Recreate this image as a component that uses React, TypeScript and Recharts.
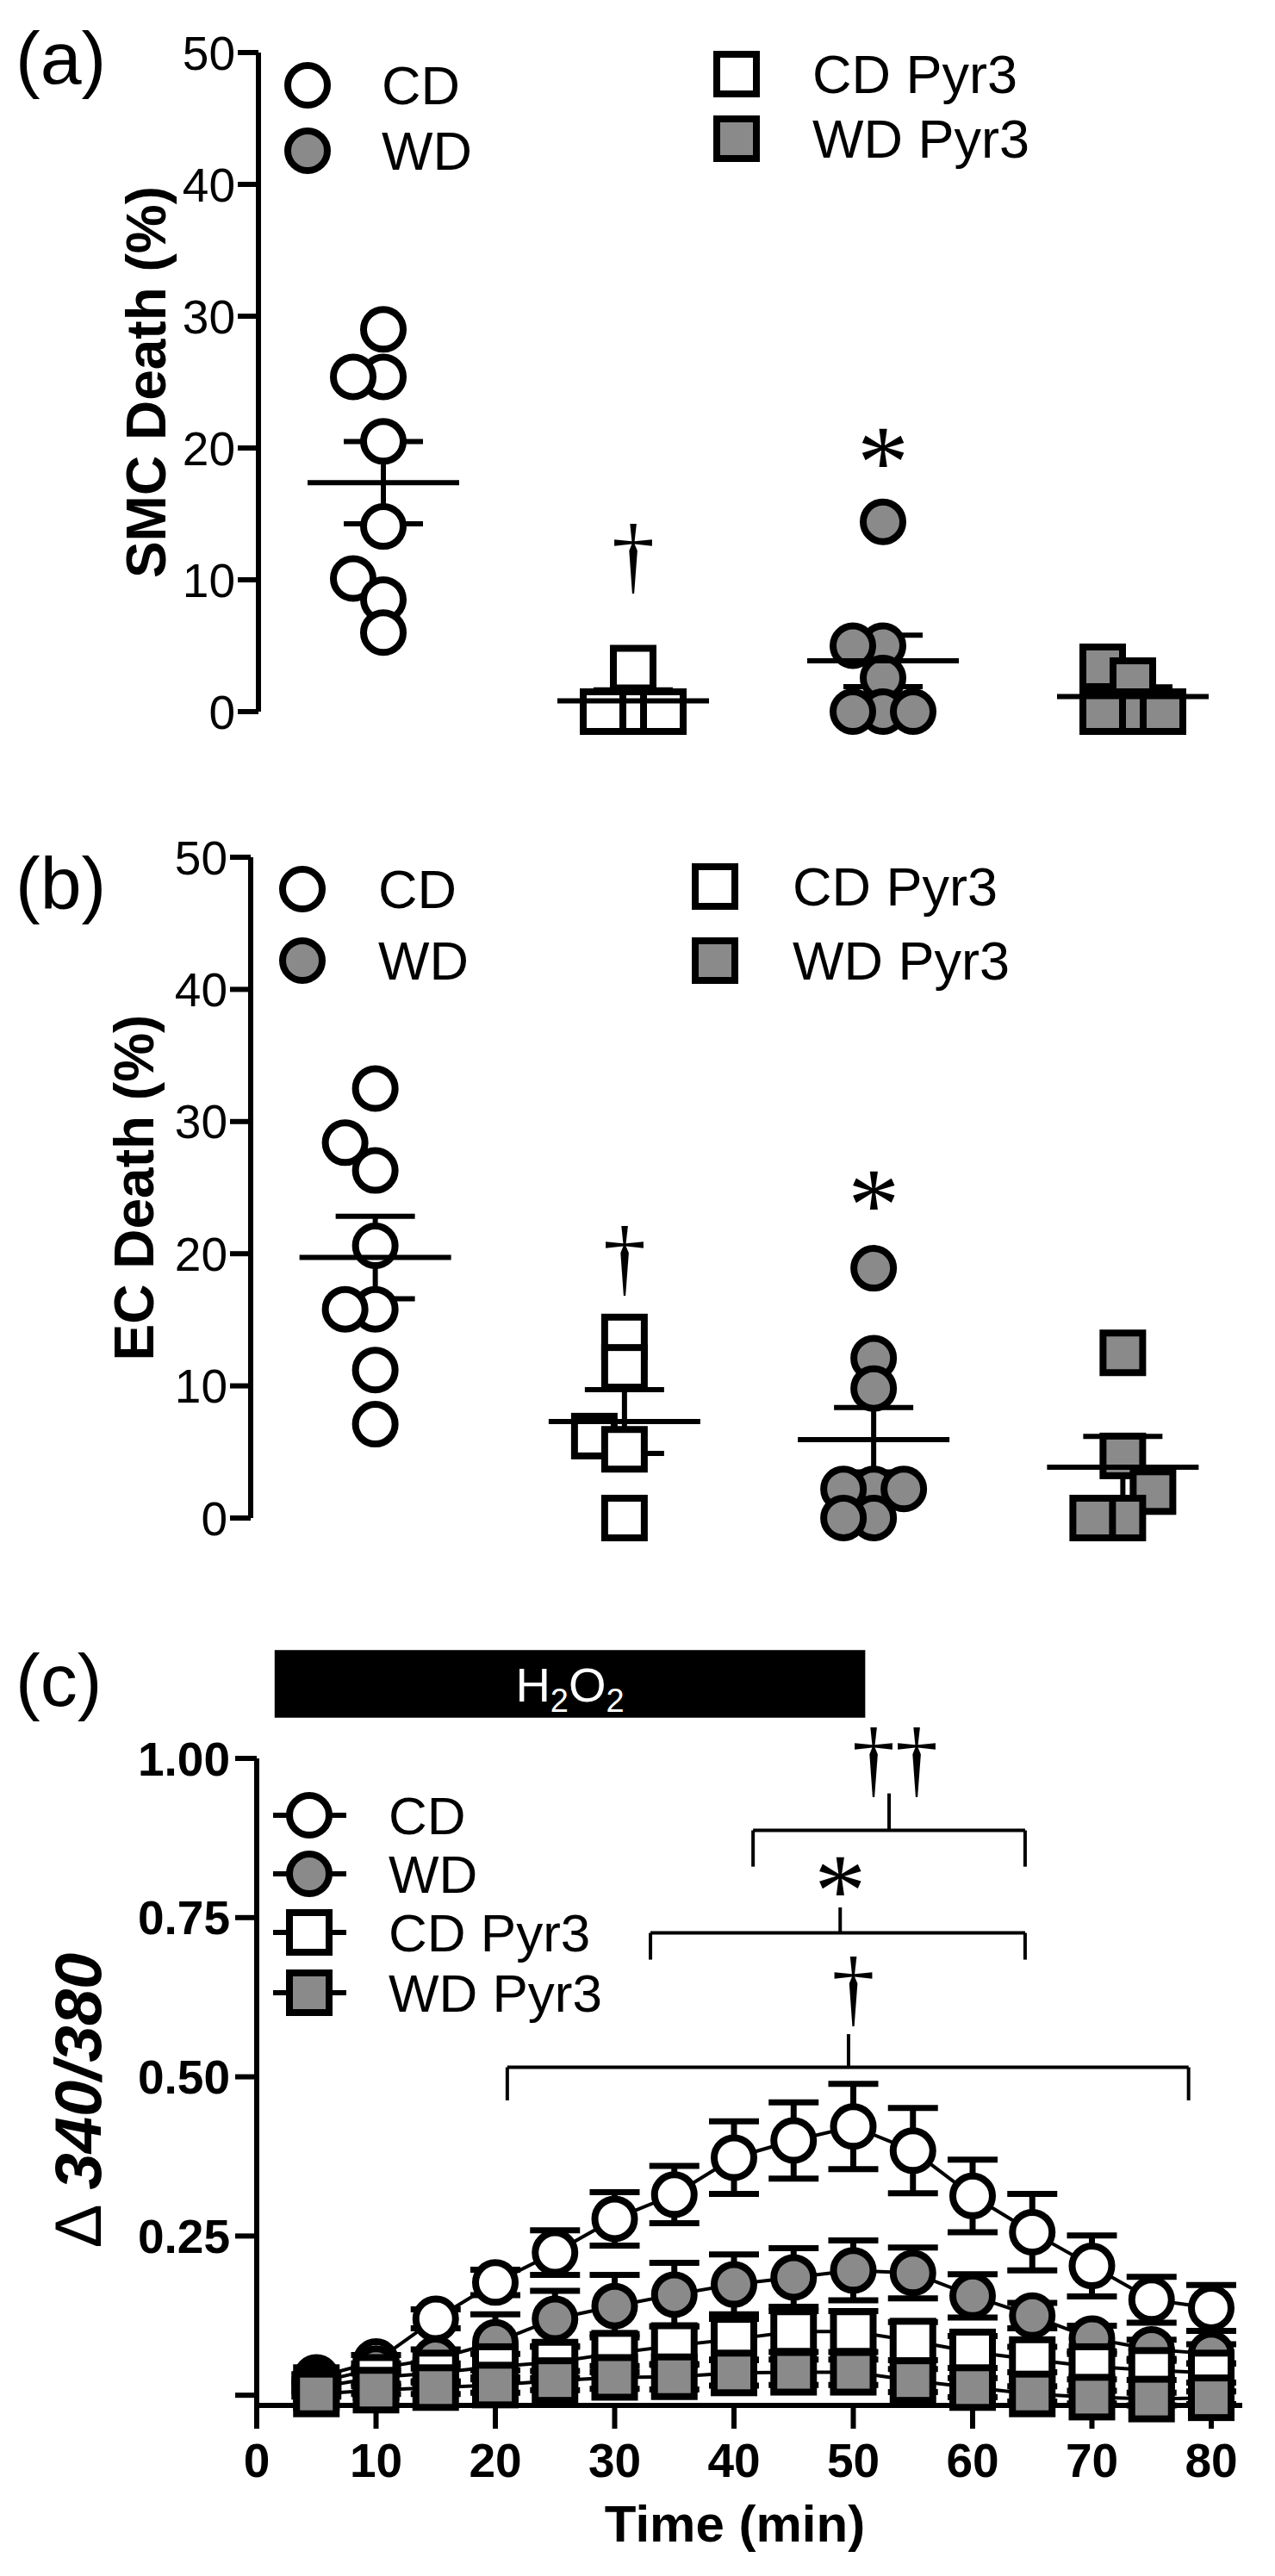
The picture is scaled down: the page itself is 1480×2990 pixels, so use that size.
import React from 'react';
import {
  ScatterChart,
  Scatter,
  ComposedChart,
  Line,
  XAxis,
  YAxis,
  ErrorBar,
  ReferenceLine,
  ReferenceArea,
  ReferenceDot,
  Legend,
} from 'recharts';

const FONT = '"Liberation Sans", Arial, Helvetica, sans-serif';
const SERIF = '"Liberation Serif", "Times New Roman", serif';
const GREY = '#8a8a8a';
const AXIS = { stroke: '#000', strokeWidth: 6 };

// ---- panels (a) and (b): one value per animal, % dead cells ----
const groups = ['CD', 'CD Pyr3', 'WD', 'WD Pyr3'];
const deathTicks = [0, 10, 20, 30, 40, 50];

const smcCD = [29.0, 25.4, 25.4, 20.5, 14.05, 10.1, 8.5, 6.0];
const smcCDPyr3 = [3.3, 0, 0, 0];
const smcWD = [14.4, 5.0, 5.0, 2.55, 0, 0, 0];
const smcWDPyr3 = [3.4, 2.35, 0, 0, 0];

const ecCD = [32.5, 28.4, 26.3, 20.6, 15.8, 15.8, 11.2, 7.1];
const ecCDPyr3 = [13.7, 11.4, 6.2, 5.2, 0];
const ecWD = [18.9, 12.1, 9.8, 2.2, 2.2, 2.2, 0, 0];
const ecWDPyr3 = [12.5, 4.7, 2.0, 0, 0];

const smcMarks = [
  { g: 1, v: 11.5, s: '†' },
  { g: 2, v: 20.2, s: '*' },
];
const ecMarks = [
  { g: 1, v: 19.35, s: '†' },
  { g: 2, v: 25.0, s: '*' },
];

// ---- panel (c): mean ± SEM of the 340/380 ratio change ----
const time = [5, 10, 15, 20, 25, 30, 35, 40, 45, 50, 55, 60, 65, 70, 75, 80];
const cdMean = [0.028, 0.053, 0.12, 0.177, 0.224, 0.277, 0.315, 0.373, 0.4, 0.422, 0.384, 0.313, 0.256, 0.203, 0.15, 0.137];
const cdSem = [0.005, 0.01, 0.015, 0.02, 0.035, 0.042, 0.045, 0.057, 0.06, 0.067, 0.067, 0.057, 0.06, 0.048, 0.036, 0.036];
const wdMean = [0.02, 0.042, 0.057, 0.083, 0.12, 0.14, 0.158, 0.174, 0.185, 0.196, 0.192, 0.156, 0.125, 0.089, 0.072, 0.065];
const wdSem = [0.005, 0.008, 0.015, 0.044, 0.044, 0.049, 0.05, 0.047, 0.046, 0.047, 0.04, 0.034, 0.02, 0.02, 0.015, 0.015];
const cdPyr3Mean = [0.012, 0.028, 0.035, 0.045, 0.052, 0.066, 0.078, 0.088, 0.1, 0.1, 0.085, 0.068, 0.056, 0.045, 0.039, 0.035];
const cdPyr3Sem = [0.005, 0.01, 0.015, 0.02, 0.025, 0.03, 0.03, 0.032, 0.032, 0.032, 0.03, 0.025, 0.02, 0.02, 0.015, 0.015];
const wdPyr3Mean = [0.002, 0.008, 0.012, 0.016, 0.023, 0.028, 0.029, 0.035, 0.036, 0.036, 0.023, 0.012, 0.002, -0.003, -0.006, -0.004];
const wdPyr3Sem = [0.004, 0.006, 0.01, 0.012, 0.015, 0.018, 0.02, 0.02, 0.02, 0.02, 0.018, 0.015, 0.012, 0.01, 0.01, 0.01];

const timeTicks = [0, 10, 20, 30, 40, 50, 60, 70, 80];
const ratioTicks = [0, 0.25, 0.5, 0.75, 1];
const h2o2 = { start: 1.5, end: 51 };

const brackets = [
  { x1: 41.6, x2: 64.4, xp: 53.0, yH: 0.887, yT: 0.83, yP: 0.945 },
  { x1: 33.0, x2: 64.4, xp: 48.9, yH: 0.726, yT: 0.684, yP: 0.766 },
  { x1: 21.0, x2: 78.1, xp: 49.6, yH: 0.515, yT: 0.463, yP: 0.567 },
];
const ratioMarks = [
  { t: 53.5, v: 0.992, s: '††' },
  { t: 48.9, v: 0.819, s: '*' },
  { t: 50.0, v: 0.632, s: '†' },
];

type Kind = 'circle' | 'square';
const seriesStyle: { kind: Kind; fill: string }[] = [
  { kind: 'circle', fill: '#fff' },
  { kind: 'square', fill: '#fff' },
  { kind: 'circle', fill: GREY },
  { kind: 'square', fill: GREY },
];

const mean = (v: number[]) => v.reduce((a, b) => a + b, 0) / v.length;
const sem = (v: number[]) => {
  const m = mean(v);
  const sd = Math.sqrt(v.reduce((a, b) => a + (b - m) * (b - m), 0) / (v.length - 1));
  return sd / Math.sqrt(v.length);
};

// GraphPad-like scatter: push overlapping dots sideways
const STEP = 35;
const MIN_GAP = 33;
function spread(values: number[], pxX: number, pxY: number): number[] {
  const order = values.map((_, i) => i).sort((a, b) => values[a] - values[b]);
  const placed: { dx: number; y: number }[] = [];
  const out = values.map(() => 0);
  const cands = [0, -STEP, STEP, -2 * STEP, 2 * STEP, -3 * STEP, 3 * STEP];
  order.forEach((i) => {
    const y = values[i] * pxY;
    const dx = cands.find((c) => placed.every((p) => Math.hypot(p.dx - c, p.y - y) >= MIN_GAP)) ?? 0;
    placed.push({ dx, y });
    out[i] = dx / pxX;
  });
  return out;
}

function Marker({ cx, cy, kind, fill, size = 46 }: any) {
  if (cx == null || cy == null) return null;
  if (kind === 'circle') {
    return <circle cx={cx} cy={cy} r={size / 2} fill={fill} stroke="#000" strokeWidth={8} />;
  }
  return (
    <rect x={cx - size / 2} y={cy - size / 2} width={size} height={size} fill={fill} stroke="#000" strokeWidth={8} />
  );
}

function Mark({ cx, cy, s }: any) {
  const star = s === '*';
  return (
    <text
      x={cx}
      y={cy}
      dy={star ? '0.5em' : '0.27em'}
      textAnchor="middle"
      fontFamily={SERIF}
      fontSize={star ? 120 : 100}
      fill="#000"
    >
      {s}
    </text>
  );
}

function VerticalTitle({ x, y, text }: { x: number; y: number; text: string }) {
  return (
    <text
      x={x}
      y={y}
      transform={`rotate(-90 ${x} ${y})`}
      textAnchor="middle"
      dominantBaseline="central"
      fontFamily={FONT}
      fontWeight="bold"
      fontSize={64}
      fill="#000"
    >
      {text}
    </text>
  );
}

function PanelLetter({ top, baseline, letter }: { top: number; baseline: number; letter: string }) {
  return (
    <svg style={{ position: 'absolute', left: 0, top, overflow: 'visible' }} width={140} height={10}>
      <text x={18} y={baseline} fontFamily={FONT} fontSize={86} fill="#000">
        {letter}
      </text>
    </svg>
  );
}

interface DeathProps {
  top: number;
  height: number;
  plot: { left: number; right: number; top: number; bottom: number };
  values: number[][];
  title: string;
  titleX: number;
  marks: { g: number; v: number; s: string }[];
  legend: { cx: number; cy: number[]; sx: number; sy: number[]; ctx: number; stx: number };
}

function DeathPanel({ top, height, plot, values, title, titleX, marks, legend }: DeathProps) {
  const pxX = (plot.right - plot.left) / groups.length;
  const pxY = (plot.bottom - plot.top) / 50;
  const points = values.map((vals, g) => {
    const off = spread(vals, pxX, pxY);
    return vals.map((v, i) => ({ x: g + off[i], y: v }));
  });
  const summary = values.map((vals, g) => ({ x: g, y: mean(vals), sem: sem(vals) }));
  const legendItems = [
    { name: groups[0], st: seriesStyle[0], x: legend.cx, y: legend.cy[0], tx: legend.ctx },
    { name: groups[2], st: seriesStyle[2], x: legend.cx, y: legend.cy[1], tx: legend.ctx },
    { name: groups[1], st: seriesStyle[1], x: legend.sx, y: legend.sy[0], tx: legend.stx },
    { name: groups[3], st: seriesStyle[3], x: legend.sx, y: legend.sy[1], tx: legend.stx },
  ];

  return (
    <div style={{ position: 'absolute', left: 0, top, width: 1480, height }}>
      <ScatterChart
        width={1480}
        height={height}
        margin={{ top: plot.top - top, right: 1480 - plot.right, bottom: top + height - plot.bottom, left: plot.left - 100 }}
      >
        <XAxis
          type="number"
          dataKey="x"
          domain={() => [-0.5, 3.5]}
          height={0}
          tick={false}
          tickLine={false}
          axisLine={AXIS}
        />
        <YAxis
          type="number"
          dataKey="y"
          domain={() => [0, 50]}
          ticks={deathTicks}
          interval={0}
          width={100}
          tickSize={24}
          tickMargin={3}
          axisLine={AXIS}
          tickLine={AXIS}
          tick={{ fontSize: 55, fill: '#000', fontFamily: FONT }}
          label={() => <VerticalTitle x={titleX} y={(plot.top + plot.bottom) / 2 - top} text={title} />}
        />
        {points.map((pts, g) => (
          <Scatter
            key={groups[g]}
            name={groups[g]}
            data={pts}
            isAnimationActive={false}
            shape={(p: any) => <Marker cx={p.cx} cy={p.cy} kind={seriesStyle[g].kind} fill={seriesStyle[g].fill} />}
          />
        ))}
        <Scatter
          name="mean"
          data={summary}
          isAnimationActive={false}
          shape={(p: any) => (
            <line x1={p.cx - 88} x2={p.cx + 88} y1={p.cy} y2={p.cy} stroke="#000" strokeWidth={6} />
          )}
        >
          <ErrorBar dataKey="sem" direction="y" width={46} strokeWidth={6} stroke="#000" />
        </Scatter>
        {marks.map((m) => (
          <ReferenceDot
            key={`${m.g}-${m.s}`}
            x={m.g}
            y={m.v}
            r={1}
            ifOverflow="visible"
            shape={(p: any) => <Mark cx={p.cx} cy={p.cy} s={m.s} />}
          />
        ))}
        <Legend
          layout="horizontal"
          verticalAlign="middle"
          align="center"
          wrapperStyle={{ position: 'absolute', left: 0, top: 0, width: 1480, height: 240, pointerEvents: 'none' }}
          content={() => (
            <svg width={1480} height={240}>
              {legendItems.map((it) => (
                <g key={it.name}>
                  <Marker cx={it.x} cy={it.y} kind={it.st.kind} fill={it.st.fill} />
                  <text x={it.tx} y={it.y} dominantBaseline="central" fontFamily={FONT} fontSize={63} fill="#000">
                    {it.name}
                  </text>
                </g>
              ))}
            </svg>
          )}
        />
      </ScatterChart>
    </div>
  );
}

const ratioRows = time.map((t, i) => ({
  t,
  cd: cdMean[i],
  cdErr: cdSem[i],
  wd: wdMean[i],
  wdErr: wdSem[i],
  cdp: cdPyr3Mean[i],
  cdpErr: cdPyr3Sem[i],
  wdp: wdPyr3Mean[i],
  wdpErr: wdPyr3Sem[i],
}));

const ratioSeries = [
  { key: 'cd', err: 'cdErr', name: 'CD', st: seriesStyle[0] },
  { key: 'wd', err: 'wdErr', name: 'WD', st: seriesStyle[2] },
  { key: 'cdp', err: 'cdpErr', name: 'CD Pyr3', st: seriesStyle[1] },
  { key: 'wdp', err: 'wdpErr', name: 'WD Pyr3', st: seriesStyle[3] },
];

function RatioPanel() {
  const top = 1880;
  const height = 1110;
  const plot = { left: 298, right: 1442, top: 2041, bottom: 2792 };
  const xAxisHeight = 170;
  const legendRows = [227, 295, 363, 433];

  return (
    <div style={{ position: 'absolute', left: 0, top, width: 1480, height }}>
      <ComposedChart
        width={1480}
        height={height}
        data={ratioRows}
        margin={{
          top: plot.top - top,
          right: 1480 - plot.right,
          left: plot.left - 150,
          bottom: top + height - plot.bottom - xAxisHeight,
        }}
      >
        <XAxis
          type="number"
          dataKey="t"
          domain={() => [0, 82.6]}
          ticks={timeTicks}
          interval={0}
          height={xAxisHeight}
          tickSize={27}
          tickMargin={17}
          axisLine={AXIS}
          tickLine={AXIS}
          tick={{ fontSize: 55, fontWeight: 'bold', fill: '#000', fontFamily: FONT }}
          label={() => (
            <text x={853} y={1070} textAnchor="middle" fontFamily={FONT} fontWeight="bold" fontSize={60} fill="#000">
              Time (min)
            </text>
          )}
        />
        <YAxis
          type="number"
          domain={() => [0, 1]}
          ticks={ratioTicks}
          interval={0}
          width={150}
          tickSize={25}
          tickMargin={6}
          axisLine={AXIS}
          tickLine={AXIS}
          tickFormatter={(v: number) => (v === 0 ? '' : v.toFixed(2))}
          tick={{ fontSize: 55, fontWeight: 'bold', fill: '#000', fontFamily: FONT }}
          label={() => (
            <text
              x={90}
              y={558}
              transform="rotate(-90 90 558)"
              textAnchor="middle"
              dominantBaseline="central"
              fontFamily={FONT}
              fontSize={76}
              fill="#000"
            >
              <tspan>Δ </tspan>
              <tspan fontWeight="bold" fontStyle="italic">340/380</tspan>
            </text>
          )}
        />
        {ratioSeries.map((s) => (
          <Line
            key={s.key}
            name={s.name}
            dataKey={s.key}
            type="linear"
            stroke="#000"
            strokeWidth={4}
            isAnimationActive={false}
            activeDot={false}
            dot={(p: any) => <Marker key={`${s.key}-${p.index}`} cx={p.cx} cy={p.cy} kind={s.st.kind} fill={s.st.fill} />}
          >
            <ErrorBar dataKey={s.err} direction="y" width={29} strokeWidth={7} stroke="#000" />
          </Line>
        ))}
        <ReferenceArea
          x1={h2o2.start}
          x2={h2o2.end}
          y1={1.064}
          y2={1.17}
          ifOverflow="visible"
          fill="#000"
          fillOpacity={1}
          stroke="none"
          label={(p: any) => {
            const vb = p.viewBox || { x: 319, y: 37, width: 683, height: 78 };
            const cx = vb.x + vb.width / 2;
            const cy = vb.y + vb.height / 2;
            return (
              <text x={cx} y={cy + 20} textAnchor="middle" fontFamily={FONT} fontSize={56} fill="#fff">
                H<tspan fontSize={38} dy={12}>2</tspan>
                <tspan dy={-12}>O</tspan>
                <tspan fontSize={38} dy={12}>2</tspan>
              </text>
            );
          }}
        />
        {brackets.flatMap((b, i) => [
          [b.x1, b.yT, b.x1, b.yH],
          [b.x1, b.yH, b.x2, b.yH],
          [b.x2, b.yH, b.x2, b.yT],
          [b.xp, b.yH, b.xp, b.yP],
        ].map((seg, j) => (
          <ReferenceLine
            key={`br-${i}-${j}`}
            segment={[
              { x: seg[0], y: seg[1] },
              { x: seg[2], y: seg[3] },
            ]}
            stroke="#000"
            strokeWidth={4}
            ifOverflow="visible"
          />
        )))}
        {ratioMarks.map((m) => (
          <ReferenceDot
            key={m.s}
            x={m.t}
            y={m.v}
            r={1}
            ifOverflow="visible"
            shape={(p: any) => <Mark cx={p.cx} cy={p.cy} s={m.s} />}
          />
        ))}
        <Legend
          layout="horizontal"
          verticalAlign="middle"
          align="center"
          wrapperStyle={{ position: 'absolute', left: 0, top: 0, width: 800, height: 480, pointerEvents: 'none' }}
          content={() => (
            <svg width={800} height={480}>
              {ratioSeries.map((s, i) => (
                <g key={s.key}>
                  <line x1={317} x2={402} y1={legendRows[i]} y2={legendRows[i]} stroke="#000" strokeWidth={6} />
                  <Marker cx={359} cy={legendRows[i]} kind={s.st.kind} fill={s.st.fill} />
                  <text x={451} y={legendRows[i]} dominantBaseline="central" fontFamily={FONT} fontSize={62} fill="#000">
                    {s.name}
                  </text>
                </g>
              ))}
            </svg>
          )}
        />
      </ComposedChart>
    </div>
  );
}

export default function App() {
  return (
    <div style={{ position: 'absolute', left: 0, top: 0, width: 1480, height: 2990, background: '#fff', overflow: 'hidden' }}>
      <DeathPanel
        top={0}
        height={900}
        plot={{ left: 300, right: 1460, top: 61, bottom: 826 }}
        values={[smcCD, smcCDPyr3, smcWD, smcWDPyr3]}
        title="SMC Death (%)"
        titleX={170}
        marks={smcMarks}
        legend={{ cx: 357, cy: [99, 175], sx: 855, sy: [86, 161], ctx: 443, stx: 943 }}
      />
      <DeathPanel
        top={960}
        height={900}
        plot={{ left: 291, right: 1448, top: 995, bottom: 1762 }}
        values={[ecCD, ecCDPyr3, ecWD, ecWDPyr3]}
        title="EC Death (%)"
        titleX={156}
        marks={ecMarks}
        legend={{ cx: 351, cy: [72, 155], sx: 830, sy: [69, 155], ctx: 439, stx: 920 }}
      />
      <RatioPanel />
      <PanelLetter top={0} baseline={97} letter="(a)" />
      <PanelLetter top={960} baseline={95} letter="(b)" />
      <PanelLetter top={1880} baseline={100} letter="(c)" />
    </div>
  );
}
